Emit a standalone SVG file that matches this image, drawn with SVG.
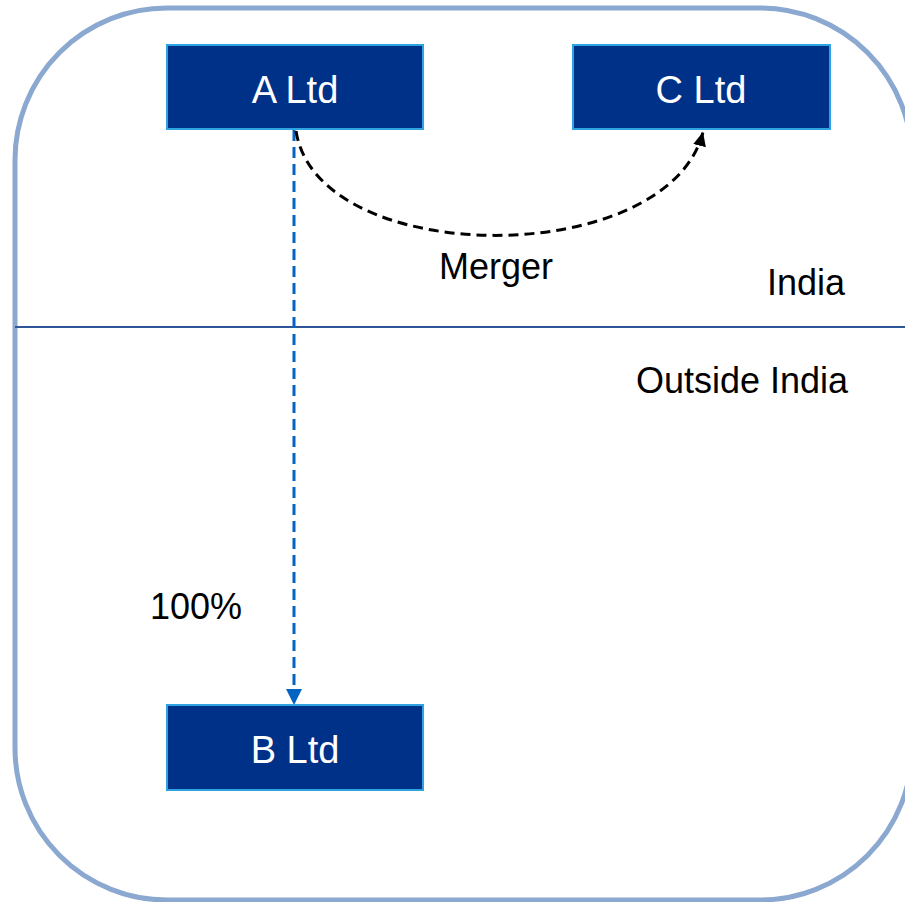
<svg xmlns="http://www.w3.org/2000/svg" width="905" height="902" viewBox="0 0 905 902">
  <style>
    .node rect { fill: #003189; stroke: #2EA3E0; stroke-width: 2; }
    .node text { fill: #FFFFFF; font-family: "Liberation Sans", Arial, sans-serif; font-size: 38px; text-anchor: middle; }
    .label { fill: #000000; font-family: "Liberation Sans", Arial, sans-serif; font-size: 36px; }
    .frame { fill: #FFFFFF; stroke: #8AA8D0; stroke-width: 5; }
    .divider { stroke: #2F5597; stroke-width: 2; }
    .own { fill: none; stroke: #0563C1; stroke-width: 3; stroke-dasharray: 11 6; }
    .merge { fill: none; stroke: #000000; stroke-width: 3; stroke-dasharray: 10 6; }
  </style>
  <defs>
    <marker id="arrowBlue" markerUnits="userSpaceOnUse" markerWidth="18" markerHeight="18" refX="16" refY="8" orient="auto">
      <path d="M0,0 L16,8 L0,16 Z" fill="#0563C1"/>
    </marker>
    <marker id="arrowBlack" markerUnits="userSpaceOnUse" markerWidth="16" markerHeight="16" refX="14" refY="6.5" orient="auto">
      <path d="M0,0 L14,6.5 L0,13 Z" fill="#000000"/>
    </marker>
  </defs>

  <!-- outer boundary (right side runs past the canvas edge) and jurisdiction divider -->
  <rect class="frame" x="15" y="8" width="897" height="892" rx="152" ry="152"/>
  <line class="divider" x1="15" y1="327" x2="905" y2="327"/>

  <!-- connectors -->
  <g id="connectors">
    <line class="own" x1="294" y1="130" x2="294" y2="705" marker-end="url(#arrowBlue)"/>
    <path class="merge" d="M296,131 C318,270 668,270 703,132" marker-end="url(#arrowBlack)"/>
  </g>

  <!-- entities -->
  <g id="a-ltd" class="node">
    <rect x="167" y="45" width="256" height="84"/>
    <text x="295" y="103">A Ltd</text>
  </g>
  <g id="c-ltd" class="node">
    <rect x="573" y="45" width="257" height="84"/>
    <text x="701" y="103">C Ltd</text>
  </g>
  <g id="b-ltd" class="node">
    <rect x="167" y="705" width="256" height="85"/>
    <text x="295" y="763">B Ltd</text>
  </g>

  <!-- labels -->
  <text class="label" x="439" y="279">Merger</text>
  <text class="label" x="767" y="295">India</text>
  <text class="label" x="636" y="393">Outside India</text>
  <text class="label" x="150" y="619">100%</text>
</svg>
